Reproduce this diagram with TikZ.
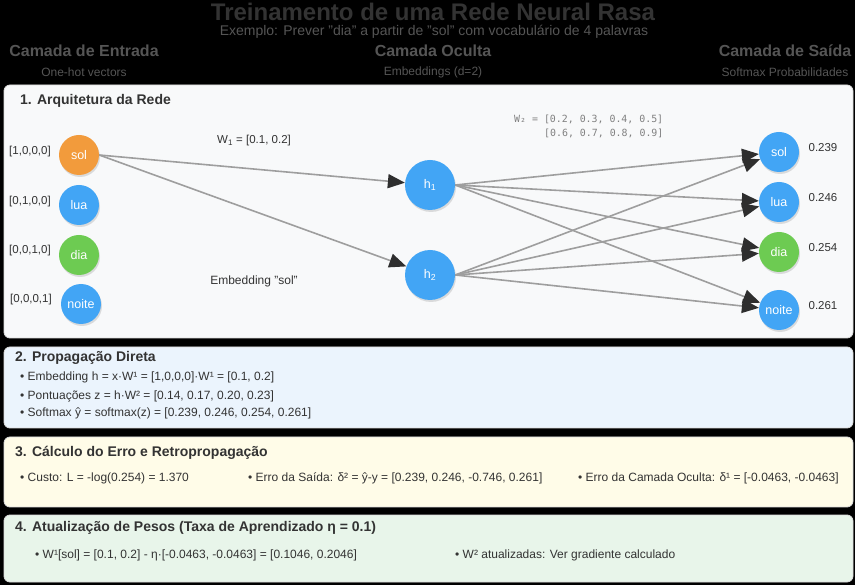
\documentclass[tikz,border=0pt]{standalone}
\usepackage{fontspec}
\setmainfont{Liberation Sans}
\newfontfamily\wmono{DejaVu Sans Mono}
\usetikzlibrary{arrows.meta,shadows}
\definecolor{bluenode}{HTML}{42A5F5}
\definecolor{orangenode}{HTML}{F29B3C}
\definecolor{greennode}{HTML}{6DCB52}
\definecolor{edgegray}{HTML}{9E9E9E}
\definecolor{tipgray}{HTML}{2E2E2E}
\definecolor{pone}{HTML}{F8F9FA}
\definecolor{ptwo}{HTML}{EBF4FD}
\definecolor{pthree}{HTML}{FFFCE8}
\definecolor{pfour}{HTML}{E8F5EA}
\definecolor{pborder}{HTML}{DDDDDD}
\definecolor{txt}{HTML}{333333}
\definecolor{headgray}{HTML}{555555}
\tikzset{
  x=1pt, y=-1pt,
  neuron/.style={circle, minimum size=40pt, inner sep=0pt, text=white,
    font=\fontsize{12.5}{14}\selectfont,
    drop shadow={shadow xshift=1pt, shadow yshift=-2pt, opacity=0.25}},
  bignode/.style={neuron, minimum size=50pt},
  blue/.style={fill=bluenode},
  orange/.style={fill=orangenode},
  green/.style={fill=greennode},
  conn/.style={draw=edgegray, line width=1.6pt,
    -{Triangle[length=17pt,width=14pt,color=tipgray]}},
  panel/.style={draw=pborder, line width=0.8pt, rounded corners=6pt},
  ptitle/.style={anchor=west, inner sep=0pt, text=txt, font=\fontsize{14}{16}\bfseries\selectfont},
  bullet/.style={anchor=west, inner sep=0pt, text=txt, font=\fontsize{12}{14}\selectfont},
  lbl/.style={inner sep=0pt, text=txt, font=\fontsize{11.5}{13}\selectfont},
  colhead/.style={inner sep=0pt, text=headgray, font=\fontsize{16}{19}\bfseries\selectfont},
  colsub/.style={inner sep=0pt, text=headgray, font=\fontsize{12}{14}\selectfont},
  mono/.style={anchor=west, inner sep=0pt, text=gray, font=\wmono\fontsize{9.9}{11}\selectfont},
}
\begin{document}
\begin{tikzpicture}
\fill[black] (0,0) rectangle (855,585);
\useasboundingbox (0,0) rectangle (855,585);

% header
\node[inner sep=0pt, text=txt, font=\fontsize{24}{28}\bfseries\selectfont] (title) at (433,12) {Treinamento de uma Rede Neural Rasa};
\node[inner sep=0pt, text=headgray, font=\fontsize{14}{16}\selectfont] (subtitle) at (434,32) {Exemplo: Prever "dia" a partir de "sol" com vocabulário de 4 palavras};
\node[colhead] (hin) at (84,51) {Camada de Entrada};
\node[colhead] (hhid) at (433,51) {Camada Oculta};
\node[colhead] (hout) at (785,51) {Camada de Saída};
\node[colsub] (sin) at (84,72) {One-hot vectors};
\node[colsub] (shid) at (433,72) {Embeddings (d=2)};
\node[colsub] (sout) at (785,72) {Softmax Probabilidades};

% panels
\draw[panel, fill=pone] (4,85) rectangle (853,338);
\draw[panel, fill=ptwo] (4,347) rectangle (853,428);
\draw[panel, fill=pthree] (4,437) rectangle (853,507);
\draw[panel, fill=pfour] (4,515) rectangle (853,582);

% panel 1
\node[ptitle] (t1) at (20,101) {1. Arquitetura da Rede};

\node[neuron, orange] (isol) at (79,155) {sol};
\node[neuron, blue] (ilua) at (79,205) {lua};
\node[neuron, green] (idia) at (79,255) {dia};
\node[neuron, blue] (inoite) at (81,304) {noite};

\node[lbl] (vsol) at (30,152) {[1,0,0,0]};
\node[lbl] (vlua) at (30,202) {[0,1,0,0]};
\node[lbl] (vdia) at (30,251) {[0,0,1,0]};
\node[lbl] (vnoite) at (31,300) {[0,0,0,1]};

\node[bignode, blue] (h1) at (430,185) {h\textsubscript{1}};
\node[bignode, blue] (h2) at (430,275) {h\textsubscript{2}};

\node[neuron, blue] (osol) at (779,152) {sol};
\node[neuron, blue] (olua) at (779,202) {lua};
\node[neuron, green] (odia) at (779,252) {dia};
\node[neuron, blue] (onoite) at (779,310) {noite};

\node[lbl] (psol) at (823,148) {0.239};
\node[lbl] (plua) at (823,198) {0.246};
\node[lbl] (pdia) at (823,248) {0.254};
\node[lbl] (pnoite) at (823,306) {0.261};

\node[lbl] (w1) at (254,141) {W\textsubscript{1} = [0.1, 0.2]};
\node[lbl, font=\fontsize{12}{14}\selectfont] (emb) at (254,281) {Embedding "sol"};
\node[mono] (w2a) at (514,119) {W₂ = [0.2, 0.3, 0.4, 0.5]};
\node[mono] (w2b) at (544,133) {[0.6, 0.7, 0.8, 0.9]};

\draw[conn] (isol.east) -- (h1);
\draw[conn] (isol.east) -- (h2);
\foreach \o in {osol,olua,odia,onoite}{
  \draw[conn] (h1.east) -- (\o);
  \draw[conn] (h2.east) -- (\o);
}

% panel 2
\node[ptitle] (t2) at (15,358) {2. Propagação Direta};
\node[bullet] (b21) at (20,377) {• Embedding h = x·W¹ = [1,0,0,0]·W¹ = [0.1, 0.2]};
\node[bullet] (b22) at (20,396) {• Pontuações z = h·W² = [0.14, 0.17, 0.20, 0.23]};
\node[bullet] (b23) at (20,413) {• Softmax ŷ = softmax(z) = [0.239, 0.246, 0.254, 0.261]};

% panel 3
\node[ptitle] (t3) at (15,453) {3. Cálculo do Erro e Retropropagação};
\node[bullet] (b31) at (20,478) {• Custo: L = -log(0.254) = 1.370};
\node[bullet] (b32) at (248,478) {• Erro da Saída: δ² = ŷ-y = [0.239, 0.246, -0.746, 0.261]};
\node[bullet] (b33) at (578,478) {• Erro da Camada Oculta: δ¹ = [-0.0463, -0.0463]};

% panel 4
\node[ptitle] (t4) at (15,528) {4. Atualização de Pesos (Taxa de Aprendizado η = 0.1)};
\node[bullet] (b41) at (35,555) {• W¹[sol] = [0.1, 0.2] - η·[-0.0463, -0.0463] = [0.1046, 0.2046]};
\node[bullet] (b42) at (455,555) {• W² atualizadas: Ver gradiente calculado};
\end{tikzpicture}
\end{document}
